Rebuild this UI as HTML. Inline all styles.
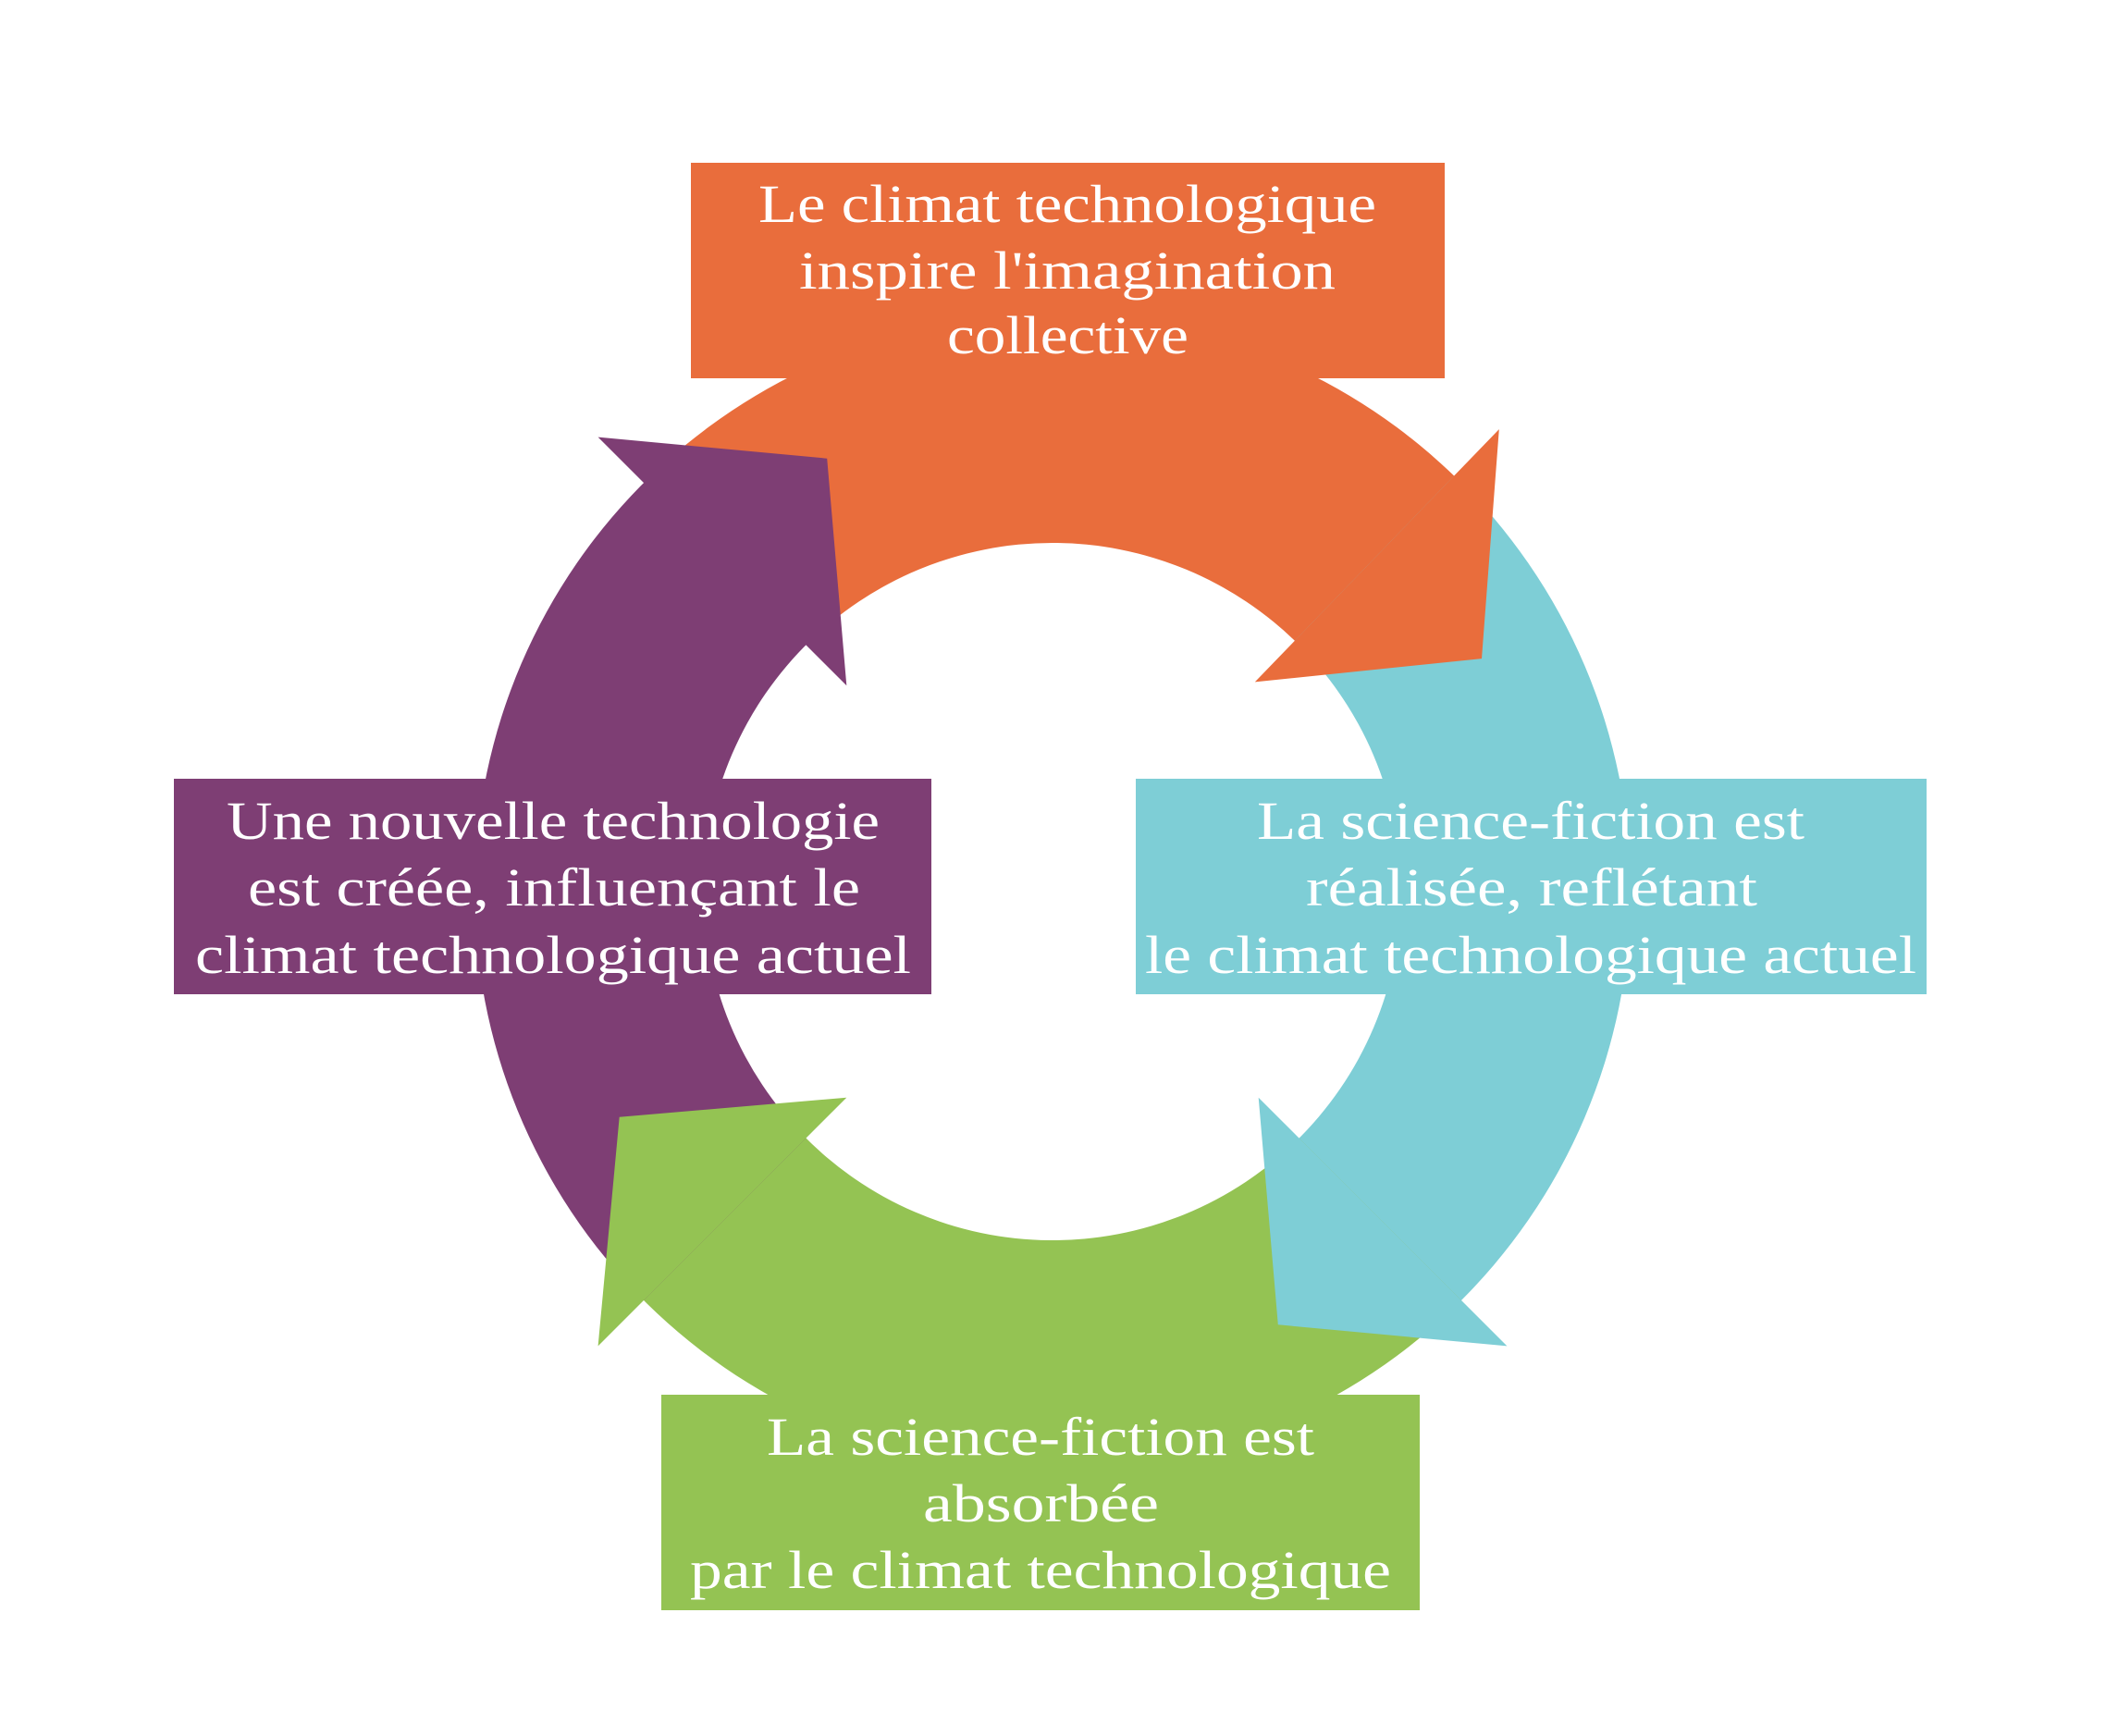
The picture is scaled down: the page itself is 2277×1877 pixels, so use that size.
<!DOCTYPE html>
<html><head><meta charset="utf-8">
<style>
html,body{margin:0;padding:0;background:#fff;}
svg{display:block;}
text{font-family:"Liberation Serif",serif;font-size:58px;fill:#fff;}
</style></head>
<body>
<svg id="s" width="2277" height="1877" viewBox="0 0 2277 1877" xmlns="http://www.w3.org/2000/svg">
<g id="bodies"></g>
<g id="heads"></g>
<rect x="747" y="176" width="815" height="233" fill="#E96D3C"/>
<rect x="1228" y="842" width="855" height="233" fill="#7ECED6"/>
<rect x="188" y="842" width="819" height="233" fill="#7E3E74"/>
<rect x="715" y="1508" width="820" height="233" fill="#94C353"/>
<text x="820" y="240" textLength="668" lengthAdjust="spacingAndGlyphs">Le climat technologique</text>
<text x="864" y="312" textLength="580" lengthAdjust="spacingAndGlyphs">inspire l'imagination</text>
<text x="1024" y="382" textLength="261" lengthAdjust="spacingAndGlyphs">collective</text>
<text x="1359" y="907" textLength="592" lengthAdjust="spacingAndGlyphs">La science-fiction est</text>
<text x="1412" y="979" textLength="488" lengthAdjust="spacingAndGlyphs">réalisée, reflétant</text>
<text x="1238" y="1052" textLength="834" lengthAdjust="spacingAndGlyphs">le climat technologique actuel</text>
<text x="245" y="907" textLength="706" lengthAdjust="spacingAndGlyphs">Une nouvelle technologie</text>
<text x="268" y="979" textLength="662" lengthAdjust="spacingAndGlyphs">est créée, influençant le</text>
<text x="211" y="1052" textLength="774" lengthAdjust="spacingAndGlyphs">climat technologique actuel</text>
<text x="829" y="1573" textLength="592" lengthAdjust="spacingAndGlyphs">La science-fiction est</text>
<text x="998" y="1645" textLength="255" lengthAdjust="spacingAndGlyphs">absorbée</text>
<text x="746" y="1717" textLength="758" lengthAdjust="spacingAndGlyphs">par le climat technologique</text>
</svg>
<script>
(function(){
var cx=1138,cy=964,ri=377,ro=625;
var ns="http://www.w3.org/2000/svg";
function P(r,a){var t=a*Math.PI/180;return [(cx+r*Math.cos(t)).toFixed(1),(cy+r*Math.sin(t)).toFixed(1)];}
var arrows=[
 {c:"#E96D3C",s:-135,b:-46},
 {c:"#7ECED6",s:-46,b:45},
 {c:"#94C353",s:45,b:135},
 {c:"#7E3E74",s:135,b:225}
];
var B=document.getElementById("bodies"),H=document.getElementById("heads");
arrows.forEach(function(a){
  var p1=P(ro,a.s),p2=P(ro,a.b+1),p3=P(ri,a.b+1),p4=P(ri,a.s);
  var d="M"+p1+" A"+ro+" "+ro+" 0 0 1 "+p2+" L"+p3+" A"+ri+" "+ri+" 0 0 0 "+p4+" Z";
  var e=document.createElementNS(ns,"path");e.setAttribute("d",d);e.setAttribute("fill",a.c);
  B.appendChild(e);
  var h=[P(ro,a.b),P(695,a.b),P(528,a.b+17.5),P(315,a.b),P(ri,a.b)];
  var g=document.createElementNS(ns,"polygon");
  g.setAttribute("points",h.map(function(q){return q.join(",");}).join(" "));
  g.setAttribute("fill",a.c);
  H.appendChild(g);
});
})();
</script>
</body></html>
